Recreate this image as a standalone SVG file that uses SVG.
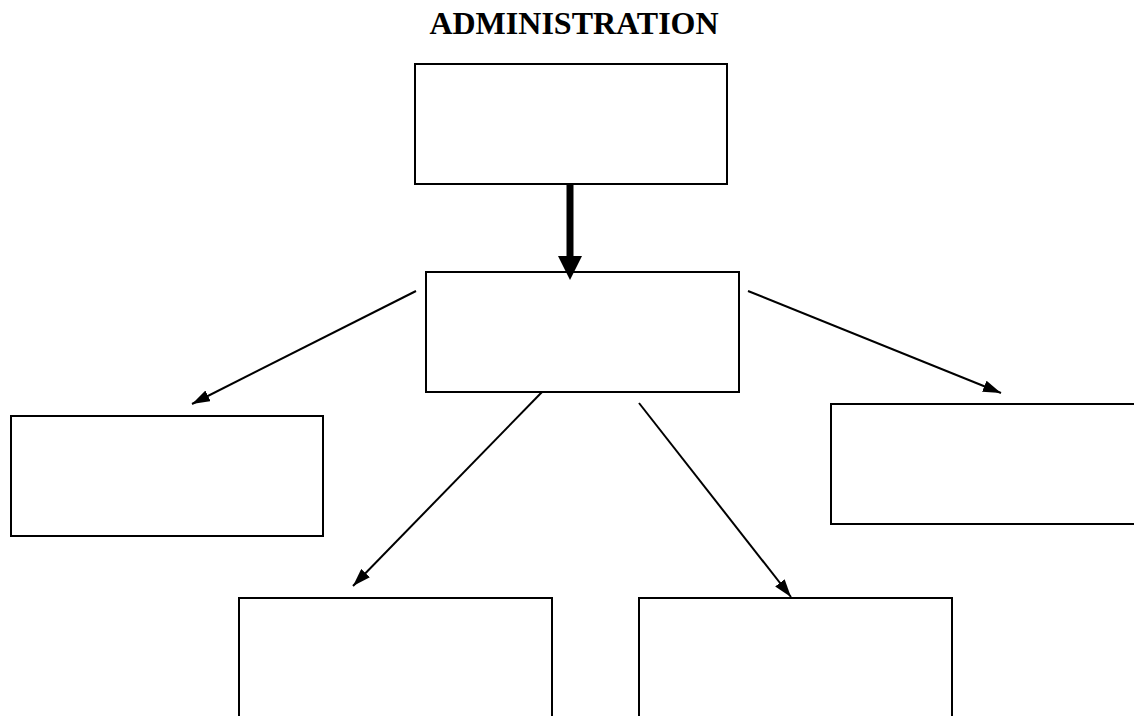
<svg xmlns="http://www.w3.org/2000/svg" width="1134" height="716" viewBox="0 0 1134 716">
<style>
.box{fill:#fff;stroke:#000;stroke-width:2}
.thin{stroke:#000;stroke-width:2;fill:none}
.title{font-family:"Liberation Serif","Times New Roman",serif;font-weight:bold;font-size:32px;fill:#000}
</style>
<defs>
<marker id="ah" viewBox="0 0 18 12" refX="18" refY="6" markerWidth="9" markerHeight="6" orient="auto" markerUnits="strokeWidth">
<path d="M0,0 L18,6 L0,12 Z" fill="#000"/>
</marker>
</defs>
<rect width="1134" height="716" fill="#fff"/>
<text class="title" x="574" y="34" text-anchor="middle">ADMINISTRATION</text>
<g id="node-top"><rect class="box" x="415" y="64" width="312" height="120"/></g>
<g id="node-middle"><rect class="box" x="426" y="272" width="313" height="120"/></g>
<g id="node-left"><rect class="box" x="11" y="416" width="312" height="120"/></g>
<g id="node-right"><rect class="box" x="831" y="404" width="312" height="120"/></g>
<g id="node-bottom-left"><rect class="box" x="239" y="598" width="313" height="140"/></g>
<g id="node-bottom-right"><rect class="box" x="639" y="598" width="313" height="140"/></g>
<g id="connectors">
<line x1="570" y1="184" x2="570" y2="258" stroke="#000" stroke-width="7"/>
<path d="M558,256 L582,256 L570,280 Z" fill="#000"/>
<line class="thin" x1="416" y1="291" x2="192" y2="404" marker-end="url(#ah)"/>
<line class="thin" x1="748" y1="291" x2="1001" y2="393" marker-end="url(#ah)"/>
<line class="thin" x1="542" y1="392" x2="353" y2="586" marker-end="url(#ah)"/>
<line class="thin" x1="639" y1="403" x2="791" y2="597" marker-end="url(#ah)"/>
</g>
</svg>
